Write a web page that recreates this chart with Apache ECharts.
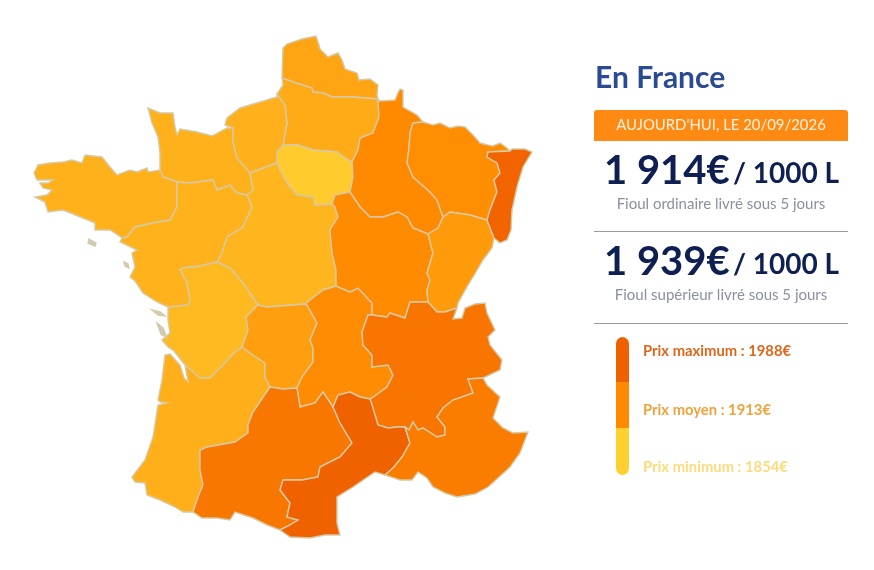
<!DOCTYPE html>
<html><head><meta charset="utf-8">
<style>html,body{margin:0;padding:0;background:#fff}#c{width:874px;height:570px}</style>
<script src="https://cdn.jsdelivr.net/npm/echarts@6/dist/echarts.min.js"></script>
</head><body><div id="c"></div>
<script>
// ---------- data ----------
const regions = ['Nord-Pas-de-Calais','Picardie','Île-de-France','Haute-Normandie','Basse-Normandie','Bretagne','Pays de la Loire','Centre','Poitou-Charentes','Aquitaine','Limousin','Auvergne','Champagne-Ardenne','Lorraine','Bourgogne','Franche-Comté','Alsace','Rhône-Alpes','Midi-Pyrénées','Languedoc-Roussillon','Provence-Alpes-Côte d\'Azur'];
const prices  = [1890,1885,1858,1881,1880,1880,1879,1876,1873,1882,1895,1911,1913,1910,1912,1899,1980,1950,1947,1985,1937];
const legendLabels = ['Prix maximum : 1988€','Prix moyen : 1913€','Prix minimum : 1854€'];
const legendValues = [1988,1913,1854];
const legendColors = ['#EF6000','#FF8A00','#FFD030'];
const title = 'En France';
const dateLabel = "AUJOURD'HUI, LE 20/09/2026";
const priceLabels = ['1 914€','1 939€'];
const unitLabel = '/ 1000 L';
const fuelLabels = ['Fioul ordinaire livré sous 5 jours','Fioul supérieur livré sous 5 jours'];

// ---------- map base: shared boundary arcs (traced outline, x,y) ----------
const A = {
 npCoast:[[282,78],[283,48],[287,44],[302,39],[316,36],[319,45],[320,49],[328,57],[338,53],[342,60],[345,69],[357,73],[359,80],[370,79],[378,85],[377,95],[378,99]],
 npPi:[[282,78],[293,82],[312,88],[313,92],[323,93],[332,97],[353,97],[378,99]],
 piCoast:[[282,78],[283,85],[277,94]],
 hnCoast:[[277,94],[277,97],[260,102],[240,108],[227,118],[225,125],[233,128]],
 piHn:[[277,94],[285,105],[287,123],[283,145]],
 piIdf:[[283,145],[298,145],[313,150],[337,152],[345,158],[352,162]],
 piCh:[[378,99],[379,117],[373,133],[360,138],[358,150],[352,162]],
 chCoast:[[378,99],[380,101],[395,100],[398,93],[400,89],[403,90],[403,107],[417,115],[423,122]],
 chLo:[[423,122],[413,123],[410,133],[409,148],[407,163],[413,177],[430,192],[437,200],[443,217]],
 loCoast:[[423,122],[433,125],[440,123],[450,128],[458,126],[465,127],[473,135],[480,143],[488,145],[493,146],[500,143],[507,148],[510,151]],
 loAl:[[510,151],[488,152],[487,157],[497,163],[500,173],[494,180],[497,192],[490,210],[487,220]],
 alCoast:[[510,151],[512,149],[525,149],[532,152],[523,167],[517,187],[512,210],[511,230],[507,240],[500,243],[494,238]],
 alFc:[[494,238],[487,220]],
 loFc:[[487,220],[470,215],[450,212],[443,217]],
 chFc:[[443,217],[438,228],[428,234]],
 chBo:[[428,234],[413,228],[407,217],[398,212],[383,217],[370,217],[360,207],[350,192]],
 boFc:[[428,234],[433,253],[427,273],[430,280],[427,290],[428,302]],
 idfCh:[[352,162],[353,177],[350,192]],
 idfBo:[[350,192],[335,195],[332,204]],
 idfCe:[[332,204],[315,205],[313,197],[297,195],[287,183],[280,170],[277,163]],
 idfHn:[[277,163],[277,152],[283,145]],
 hnCe:[[277,163],[250,173]],
 hnBn:[[233,128],[233,143],[237,158],[250,173]],
 bnCoast:[[233,128],[227,128],[212,136],[197,132],[180,129],[177,135],[175,127],[173,113],[160,113],[148,108],[152,123],[158,137],[160,153],[160,170]],
 bnBr:[[160,170],[163,177],[177,182]],
 brCoast:[[160,170],[148,172],[147,168],[137,172],[130,170],[117,175],[110,167],[102,157],[85,155],[82,163],[72,160],[63,162],[50,163],[38,165],[34,173],[37,180],[53,180],[48,183],[40,183],[43,188],[52,190],[47,195],[35,197],[45,202],[48,212],[63,210],[83,218],[95,223],[95,230],[110,230],[118,235],[122,238]],
 brPl:[[177,182],[177,207],[170,220],[153,223],[135,227],[127,237],[122,238]],
 bnPl:[[177,182],[190,183],[213,180],[217,190],[230,185],[237,193],[247,195]],
 bnCe:[[247,195],[253,190],[250,173]],
 plCe:[[247,195],[252,207],[243,227],[227,237],[222,253],[217,262]],
 plPc:[[217,262],[200,266],[183,268],[180,270],[187,283],[190,300],[188,305],[168,307]],
 plCoast:[[122,238],[120,242],[137,250],[132,253],[135,267],[130,277],[135,281],[143,293],[157,302],[168,307]],
 pcCoast:[[168,307],[168,320],[170,333],[162,340],[168,347],[174,351],[181,360],[185,365]],
 pcAq:[[185,365],[200,378],[210,378],[223,365],[235,352],[242,347]],
 pcLi:[[242,347],[248,330],[246,317],[255,308],[258,305]],
 pcCe:[[217,262],[230,268],[243,283],[258,305]],
 ceLi:[[258,305],[267,307],[305,304]],
 ceAu:[[305,304],[323,290],[336,286]],
 ceBo:[[332,204],[335,207],[338,217],[330,230],[332,253],[336,270],[336,286]],
 boAu:[[336,286],[350,292],[358,288],[372,303],[372,315]],
 boRa:[[372,315],[387,317],[390,313],[405,318],[410,302],[428,302]],
 fcRa:[[428,302],[437,312],[445,312],[457,308]],
 fcCoast:[[494,238],[492,248],[483,260],[473,277],[468,285],[458,303],[457,308]],
 raCoast:[[457,308],[453,319],[462,318],[465,308],[475,304],[485,303],[487,313],[495,330],[488,337],[490,345],[502,360],[500,370],[483,378]],
 raPa:[[483,378],[468,379],[473,393],[453,400],[443,408],[437,417],[445,427],[445,435],[437,437],[423,428],[418,430],[413,422],[409,430],[405,427]],
 raLr:[[405,427],[397,427],[388,428],[378,425],[372,405],[370,399]],
 raAu:[[372,315],[368,315],[362,332],[363,345],[372,355],[372,367],[388,365],[393,375],[387,387],[372,398],[370,399]],
 auLr:[[370,399],[360,397],[350,392],[338,395],[333,407]],
 auMp:[[333,407],[323,392],[315,403],[300,407],[297,388]],
 auLi:[[297,388],[302,377],[313,362],[313,348],[310,340],[317,323],[307,305],[305,304]],
 liMp:[[270,387],[283,389],[297,388]],
 aqLi:[[270,387],[265,377],[265,363],[253,355],[242,347]],
 aqCoast:[[185,365],[188,382],[184,378],[180,365],[170,354],[165,355],[162,380],[158,400],[160,402],[167,403],[158,405],[153,437],[145,460],[132,477],[135,482],[145,483],[147,495],[160,500],[175,507],[183,512],[193,512]],
 aqMp:[[193,512],[198,497],[203,485],[200,470],[200,450],[207,447],[235,442],[248,433],[248,425],[253,412],[270,387]],
 lrMp:[[333,407],[340,423],[352,443],[340,457],[320,467],[318,477],[302,480],[283,480],[280,490],[290,503],[287,517],[298,520],[290,525],[280,530]],
 mpCoast:[[193,512],[202,518],[217,518],[230,520],[235,512],[253,518],[267,525],[280,530]],
 lrCoast:[[280,530],[290,537],[310,538],[325,535],[340,535],[337,523],[337,497],[353,487],[375,472],[385,475]],
 lrPa:[[385,475],[393,468],[402,457],[410,443],[405,427]],
 paCoast:[[385,475],[400,480],[412,480],[418,472],[427,478],[433,487],[445,493],[457,497],[475,494],[488,487],[498,478],[510,467],[520,453],[528,432],[513,433],[503,428],[493,418],[500,397],[487,385],[483,378]]
};
const rings = {
 'Nord-Pas-de-Calais':['npCoast','-npPi'],
 'Picardie':['piCoast','piHn','piIdf','-piCh','-npPi'],
 'Île-de-France':['piIdf','idfCh','idfBo','idfCe','idfHn'],
 'Haute-Normandie':['hnCoast','hnBn','-hnCe','idfHn','-piHn'],
 'Basse-Normandie':['bnCoast','bnBr','bnPl','bnCe','-hnBn'],
 'Bretagne':['brCoast','-brPl','-bnBr'],
 'Pays de la Loire':['-bnPl','brPl','plCoast','-plPc','-plCe'],
 'Centre':['-idfCe','ceBo','-ceAu','-ceLi','-pcCe','-plCe','bnCe','-hnCe'],
 'Poitou-Charentes':['plPc','pcCoast','pcAq','pcLi','-pcCe'],
 'Aquitaine':['-pcAq','aqCoast','aqMp','aqLi'],
 'Limousin':['ceLi','-auLi','-liMp','aqLi','pcLi'],
 'Auvergne':['ceAu','boAu','raAu','auLr','auMp','auLi'],
 'Champagne-Ardenne':['chCoast','chLo','chFc','chBo','-idfCh','-piCh'],
 'Lorraine':['loCoast','loAl','loFc','-chLo'],
 'Bourgogne':['-chBo','boFc','-boRa','-boAu','-ceBo','-idfBo'],
 'Franche-Comté':['-alFc','fcCoast','-fcRa','-boFc','-chFc','-loFc'],
 'Alsace':['alCoast','alFc','-loAl'],
 'Rhône-Alpes':['boRa','fcRa','raCoast','raPa','raLr','-raAu'],
 'Midi-Pyrénées':['-aqMp','mpCoast','-lrMp','auMp','-liMp'],
 'Languedoc-Roussillon':['lrMp','lrCoast','lrPa','raLr','auLr'],
 'Provence-Alpes-Côte d\'Azur':['-lrPa','paCoast','raPa']
};
const islands = [
 [[89,239],[96,243],[95,246],[88,243]],
 [[124,262],[128,264],[129,268],[125,266]],
 [[152,310],[160,312],[165,316],[158,315]],
 [[157,323],[163,328],[167,338],[161,334]]
];
function toRing(list){
  const out=[];
  list.forEach(k=>{
    const rev=k[0]==='-'; const a=A[rev?k.slice(1):k].slice();
    if(rev)a.reverse();
    a.forEach((p,i)=>{ if(i>0||!out.length) out.push([p[0],-p[1]]); });
  });
  return out;
}
const features = Object.keys(rings).map(n=>({type:'Feature',properties:{name:n},geometry:{type:'Polygon',coordinates:[toRing(rings[n])]}}));
features.push({type:'Feature',properties:{name:'Îles'},geometry:{type:'MultiPolygon',coordinates:islands.map(r=>[r.map(p=>[p[0],-p[1]])])}});
echarts.registerMap('france',{type:'FeatureCollection',features});

// colour ramp following the three legend colours
function hex(c){return [1,3,5].map(i=>parseInt(c.substr(i,2),16));}
const ramp=[];
for(let v=legendValues[2];v<=legendValues[0];v++){
  const lo=v<=legendValues[1];
  const a=hex(lo?legendColors[2]:legendColors[1]), b=hex(lo?legendColors[1]:legendColors[0]);
  const t=lo?(v-legendValues[2])/(legendValues[1]-legendValues[2]):(v-legendValues[1])/(legendValues[0]-legendValues[1]);
  ramp.push('rgb('+a.map((x,i)=>Math.round(x+(b[i]-x)*t)).join(',')+')');
}

const FONT='Lato';
function T(x,y,text,size,color,weight,align){
  return {type:'text',x,y,silent:true,style:{text,fill:color,font:(weight||'normal')+' '+size+'px '+FONT,textAlign:align||'left',textVerticalAlign:'middle'}};
}
const gfx=[
 T(595,78,title,30,'#2A4A93','bold'),
 {type:'rect',shape:{x:594,y:110,width:254,height:31,r:[3,3,0,0]},style:{fill:'#FF8A13'},silent:true},
 T(721,125.5,dateLabel,14.9,'#FFF3DF','normal','center'),
 T(604,171,priceLabels[0],40,'#0E1F51','bold'),
 T(733,174,unitLabel,28,'#0E1F51','bold'),
 T(721,204,fuelLabels[0],15,'#8B909E','normal','center'),
 {type:'rect',shape:{x:594,y:231,width:254,height:1},style:{fill:'#9A9A9A'},silent:true},
 T(604,262,priceLabels[1],40,'#0E1F51','bold'),
 T(733,265,unitLabel,28,'#0E1F51','bold'),
 T(721,295,fuelLabels[1],15,'#8B909E','normal','center'),
 {type:'rect',shape:{x:594,y:323,width:254,height:1},style:{fill:'#9A9A9A'},silent:true},
 {type:'rect',shape:{x:616,y:337,width:13,height:45,r:[7,7,0,0]},style:{fill:legendColors[0]},silent:true},
 {type:'rect',shape:{x:616,y:382,width:13,height:46},style:{fill:legendColors[1]},silent:true},
 {type:'rect',shape:{x:616,y:428,width:13,height:47,r:[0,0,7,7]},style:{fill:legendColors[2]},silent:true},
 T(643,351,legendLabels[0],14.8,'#E0661A','bold'),
 T(643,410,legendLabels[1],14.8,'#F0A23C','bold'),
 T(643,467,legendLabels[2],14.8,'#F9DC7C','bold')
];

const chart=echarts.init(document.getElementById('c'),null,{renderer:'canvas'});
chart.setOption({
  backgroundColor:'#fff',animation:false,
  tooltip:{show:false},
  visualMap:{show:false,type:'continuous',min:legendValues[2],max:legendValues[0],inRange:{color:ramp},seriesIndex:0},
  graphic:gfx,
  series:[{
    type:'map',map:'france',roam:false,silent:true,aspectScale:1,
    boundingCoords:[[0,0],[874,-570]],
    left:0,top:0,width:874,height:570,
    label:{show:false},emphasis:{disabled:true},select:{disabled:true},
    itemStyle:{areaColor:'#CFCBC0',borderColor:'#D6C9A6',borderWidth:1.4},
    data:regions.map((n,i)=>({name:n,value:prices[i]}))
  }]
});
</script></body></html>
